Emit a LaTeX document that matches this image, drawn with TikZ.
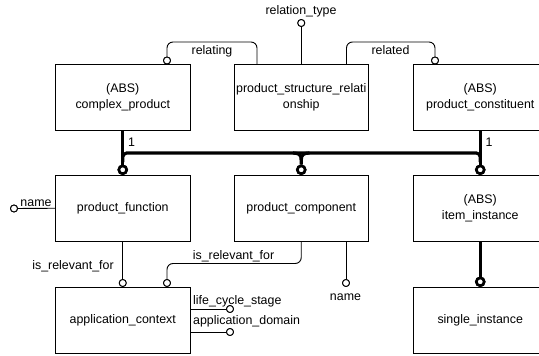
\documentclass[tikz,border=0pt]{standalone}
\usepackage{fontspec}
\setmainfont{Liberation Sans}
\begin{document}
\begin{tikzpicture}[x=1pt,y=-1pt,
  box/.style={draw, line width=0.9pt, minimum width=134.5pt, minimum height=66.5pt,
    inner sep=0pt, outer sep=0pt, align=center, anchor=north west,
    font=\fontsize{12.4}{15.5}\selectfont},
  lbl/.style={inner sep=0pt, anchor=base, font=\fontsize{12.4}{15.5}\selectfont},
  conn/.style={line width=0.9pt},
  thk/.style={line width=3.2pt},
  oc/.style={circle, draw, fill=white, line width=0.9pt, inner sep=0pt, minimum size=7pt},
  tc/.style={circle, draw, fill=white, line width=2.6pt, inner sep=0pt, minimum size=7.8pt}]
\clip (0,0) rectangle (539,356);
\fill[white] (0,0) rectangle (539,356);

% boxes
\node[box] (cp)  at (55.5,64)  {(ABS)\\complex\_product};
\node[box] (psr) at (234,64)   {product\_structure\_relati\\onship};
\node[box] (pcn) at (413,64)   {(ABS)\\product\_constituent};
\node[box] (pf)  at (55.5,175) {product\_function};
\node[box] (pc)  at (234,175)  {product\_component};
\node[box] (ii)  at (413,175)  {(ABS)\\item\_instance};
\node[box] (ac)  at (55.5,287) {application\_context};
\node[box] (si)  at (413,287)  {single\_instance};

% endpoint circles (thin)
\node[oc] (crt) at (301.25,23) {};
\node[oc] (crl) at (167,60.5) {};
\node[oc] (crd) at (435,60.5) {};
\node[oc] (cnm) at (14,208.5) {};
\node[oc] (cir1) at (122.75,283) {};
\node[oc] (cir2) at (167,283) {};
\node[oc] (cnm2) at (346,283) {};
\node[oc] (clc) at (230,309) {};
\node[oc] (cad) at (230,332) {};

% thick circles
\node[tc] (t1) at (122.75,169.8) {};
\node[tc] (t2) at (301.25,169.8) {};
\node[tc] (t3) at (480.25,169.8) {};
\node[tc] (t4) at (480.25,281.8) {};

% thin connectors
\draw[conn] (psr.north) -- (crt);
\draw[conn, rounded corners=6pt] ([xshift=23pt]psr.north west) |- (167,42) -- (crl);
\draw[conn, rounded corners=6pt] ([xshift=112.5pt]psr.north west) |- (435,42) -- (crd);
\draw[conn] (pf.west) -- (cnm);
\draw[conn] (pf.south) -- (cir1);
\draw[conn, rounded corners=6pt] (pc.south) |- (167,263.5) -- (cir2);
\draw[conn] ([xshift=112pt]pc.south west) -- (cnm2);
\draw[conn] (ac.east |- clc) -- (clc);
\draw[conn] (ac.east |- cad) -- (cad);

% thick connectors
\draw[thk] (cp.south) -- (t1);
\draw[thk] (pcn.south) -- (t3);
\draw[thk, rounded corners=4pt] (122.75,162) -- (122.75,153) -- (480.25,153) -- (480.25,162);
\draw[thk] (293,153) .. controls (299,153) and (301.25,155) .. (301.25,160) -- (t2);
\draw[thk] (309.5,153) .. controls (303.5,153) and (301.25,155) .. (301.25,160);
\draw[thk] (ii.south) -- (t4);

% redraw circles on top
\foreach \n in {t1,t2,t3,t4} {\node[tc] at (\n) {};}
\foreach \n in {crt,crl,crd,cnm,cir1,cir2,cnm2,clc,cad} {\node[oc] at (\n) {};}

% labels
\node[lbl] (lrt) at (301,14) {relation\_type};
\node[lbl] (lrl) at (212,54) {relating};
\node[lbl] (lrd) at (390.5,54) {related};
\node[lbl] (l1a) at (131.5,146) {1};
\node[lbl] (l1b) at (489,146) {1};
\node[lbl] (lnm) at (36,206) {name};
\node[lbl] (lir1) at (73,269) {is\_relevant\_for};
\node[lbl] (lir2) at (233.5,259) {is\_relevant\_for};
\node[lbl, anchor=base west] (llc) at (193,304) {life\_cycle\_stage};
\node[lbl, anchor=base west] (lad) at (193,324) {application\_domain};
\node[lbl] (lnm2) at (345.5,300) {name};
\end{tikzpicture}
\end{document}
